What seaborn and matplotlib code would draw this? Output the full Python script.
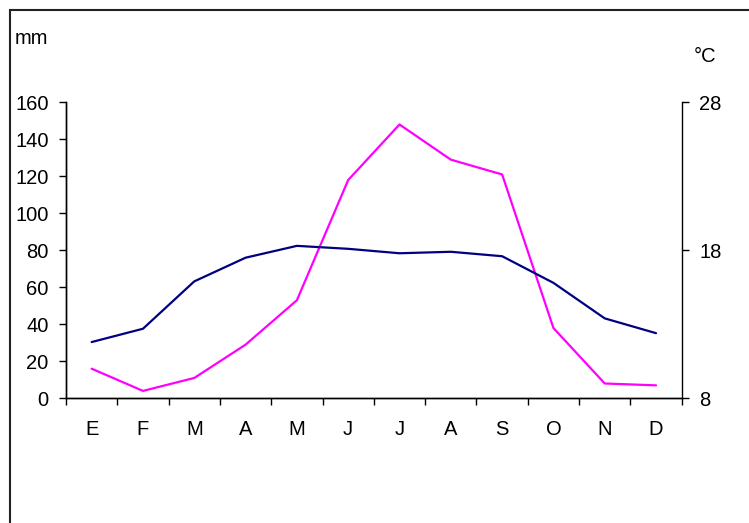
import matplotlib
matplotlib.use("Agg")
import matplotlib.pyplot as plt
from matplotlib.patches import Rectangle
import numpy as np
import pandas as pd
import seaborn as sns

# Monthly climate data (Spanish month initials)
months = ["E", "F", "M", "A", "M", "J", "J", "A", "S", "O", "N", "D"]
precip_mm = [16, 4, 11, 29, 53, 118, 148, 129, 121, 38, 8, 7]
temp_c = [11.8, 12.7, 15.9, 17.5, 18.3, 18.1, 17.8, 17.9, 17.6, 15.8, 13.4, 12.4]
mm_ticks = [0, 20, 40, 60, 80, 100, 120, 140, 160]
c_ticks = [8, 18, 28]

sns.set_theme(style="white")
plt.rcParams["font.family"] = ["Liberation Sans", "DejaVu Sans"]
plt.rcParams["text.color"] = "black"
plt.rcParams["xtick.color"] = "black"
plt.rcParams["ytick.color"] = "black"

df = pd.DataFrame({
    "pos": np.arange(len(months)) + 0.5,
    "mes": months,
    "precip": precip_mm,
    "temp": temp_c,
})

W, H = 749, 523
fig = plt.figure(figsize=(W / 100, H / 100), dpi=100)
fig.patch.set_facecolor("white")
ax = fig.add_axes([66 / W, 1 - 398.3 / H, (681.7 - 66) / W, (398.3 - 102.3) / H])
ax2 = ax.twinx()

sns.lineplot(data=df, x="pos", y="precip", ax=ax, color="#FF00FF", lw=1.6)
sns.lineplot(data=df, x="pos", y="temp", ax=ax2, color="#000080", lw=1.6)

fs = 14.5
ax.set_xlim(0, 12)
ax.set_ylim(0, 160)
ax2.set_ylim(8, 28)
ax.set_xlabel("")
ax.set_ylabel("")
ax2.set_ylabel("")

# Major ticks on month boundaries, labels centred on months
ax.set_xticks(np.arange(13))
ax.set_xticklabels([])
ax.set_xticks(df["pos"], minor=True)
ax.set_xticklabels(months, minor=True, fontsize=fs)
ax.tick_params(axis="x", which="major", direction="out", length=5, width=1,
               color="black", bottom=True)
ax.tick_params(axis="x", which="minor", length=0, pad=15.5, labelcolor="black")

ax.set_yticks(mm_ticks)
ax.set_yticklabels([str(t) for t in mm_ticks], fontsize=fs)
ax.tick_params(axis="y", direction="out", length=5, width=1, color="black",
               left=True, pad=7.5, labelcolor="black")
ax2.set_yticks(c_ticks)
ax2.set_yticklabels([str(t) for t in c_ticks], fontsize=fs)
ax2.tick_params(axis="y", direction="out", length=5, width=1, color="black",
                right=True, pad=7.5, labelcolor="black")

for a in (ax, ax2):
    a.grid(False)
    a.spines["top"].set_visible(False)
    for s in ("left", "right", "bottom"):
        a.spines[s].set_color("black")
        a.spines[s].set_linewidth(1)
ax.spines["right"].set_visible(False)

# Unit labels
fig.text(15 / W, 1 - 44 / H, "mm", fontsize=fs, ha="left", va="baseline",
         color="black")
fig.text(694 / W, 1 - 62 / H, "°C", fontsize=fs, ha="left", va="baseline",
         color="black")

# Outer frame of the chart area
fig.add_artist(Rectangle((10 / W, -0.2), 1.2, 1.2 - 10 / H,
                         transform=fig.transFigure, fill=False,
                         edgecolor="#222222", lw=1.5, clip_on=False))

fig.savefig("out.png", dpi=100, facecolor="white")
